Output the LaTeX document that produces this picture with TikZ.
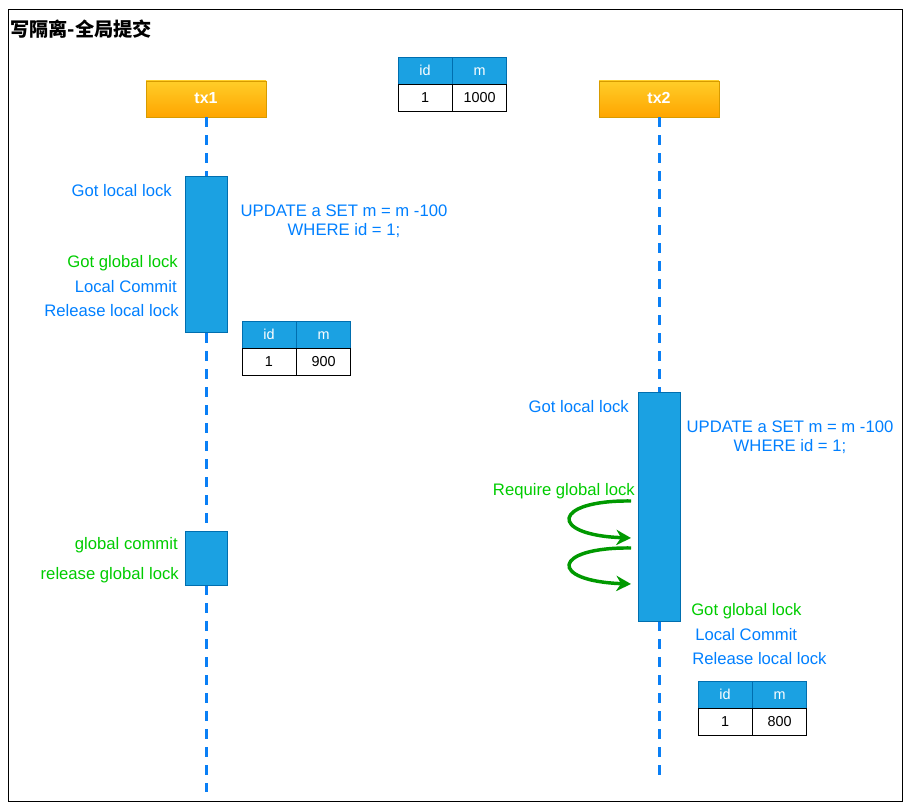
\documentclass[tikz,border=0pt]{standalone}
\usepackage{fontspec}
\setmainfont{Liberation Sans}
\newfontfamily\titlefont{Noto Sans CJK SC}
\usepackage{xcolor}
\usetikzlibrary{arrows, arrows.meta}
\usetikzlibrary{positioning}
\definecolor{actfill}{HTML}{1BA1E2}
\definecolor{actline}{HTML}{006EAF}
\definecolor{lifeblue}{HTML}{0A7FF5}
\definecolor{txtblue}{HTML}{007FFF}
\definecolor{txtgreen}{HTML}{00CC00}
\definecolor{arrgreen}{HTML}{009900}
\definecolor{txtop}{HTML}{FFCD28}
\definecolor{txbot}{HTML}{FFA500}
\definecolor{txline}{HTML}{D79B00}
\tikzset{
  txbox/.style={draw=txline, top color=txtop, bottom color=txbot, minimum width=90pt, minimum height=27pt, inner sep=0pt, text height=1.6ex, text depth=0.2ex, text=white, font=\fontsize{12}{14}\selectfont\bfseries},
  lifeline/.style={lifeblue, line width=2.25pt, dash pattern=on 7.5pt off 6pt},
  actbox/.style={draw=actline, fill=actfill, line width=0.75pt, minimum width=31.5pt, inner sep=0pt},
  bluelbl/.style={text=txtblue, inner sep=0pt, font=\fontsize{12.5}{14.25}\selectfont},
  greenlbl/.style={bluelbl, text=txtgreen},
  headcell/.style={draw=actline, fill=actfill, text=white, minimum width=40.5pt, minimum height=20.25pt, inner sep=0pt, text height=1.6ex, text depth=0.2ex, font=\fontsize{10.8}{12}\selectfont},
  valcell/.style={headcell, draw=black, fill=white, text=black},
  retry/.style={arrgreen, line width=2.6pt, -{Stealth[length=11pt,width=11.5pt,inset=3.5pt]}}
}
\begin{document}
\begin{tikzpicture}[x=0.75pt,y=-0.75pt]
	\useasboundingbox (0,0) rectangle (910,812);
	% frame and title
	\draw[line width=0.75pt] (8,10) rectangle (902,801);
	\node[anchor=west, inner sep=0pt, font=\titlefont\bfseries\fontsize{14.4}{16}\selectfont] (title) at (10,29) {写隔离-全局提交};
	% transactions
	\node[txbox] (tx1) at (206,99) {tx1};
	\node[txbox] (tx2) at (659,99) {tx2};
	\coordinate (tx1end) at (206,792);
	\coordinate (tx2end) at (659,777);
	% draw lifelines
	\draw[lifeline] (tx1.south) -- (tx1end);
	\draw[lifeline] (tx2.south) -- (tx2end);
	% activation boxes
	\node[actbox, minimum height=117pt] (act1) at (206,255) {};
	\node[actbox, minimum height=40.5pt] (act2) at (206,558) {};
	\node[actbox, minimum height=171pt] (act3) at (659,507) {};
	% data tables
	\foreach \tx/\ty/\val/\tn in {425/70.5/1000/ta, 269/334.5/900/tb, 725/694.5/800/tc} {
		\node[headcell] (\tn-id) at (\tx,\ty) {id};
		\node[headcell, right=0pt of \tn-id] (\tn-m) {m};
		\node[valcell, below=0pt of \tn-id] (\tn-k) {1};
		\node[valcell, right=0pt of \tn-k] (\tn-v) {\val};
	}
	% tx1 labels
	\node[bluelbl, anchor=east] (lock1) at (172,191) {Got local lock};
	\node[bluelbl, align=center] (upd1) at (344,221) {UPDATE a SET m = m -100\\WHERE id = 1;};
	\node[greenlbl, anchor=east] (glock1) at (178,263) {Got global lock};
	\node[bluelbl, anchor=east] (commit1) at (177,287) {Local Commit};
	\node[bluelbl, anchor=east] (rel1) at (179,311) {Release local lock};
	\node[greenlbl, anchor=east] (gcommit) at (178,545) {global commit};
	\node[greenlbl, anchor=east] (grel) at (179,575) {release global lock};
	% tx2 labels
	\node[bluelbl, anchor=east] (lock2) at (629,407) {Got local lock};
	\node[bluelbl, align=center] (upd2) at (790,437) {UPDATE a SET m = m -100\\WHERE id = 1;};
	\node[greenlbl, anchor=east] (req) at (635,491) {Require global lock};
	\node[greenlbl, anchor=west] (glock2) at (691,611) {Got global lock};
	\node[bluelbl, anchor=west] (commit2) at (695,635) {Local Commit};
	\node[bluelbl, anchor=west] (rel2) at (692,659) {Release local lock};
	% retry arrows
	\coordinate (req1s) at (631,501);
	\coordinate (req1e) at (631,538);
	\coordinate (req2s) at (631,548);
	\coordinate (req2e) at (631,584);
	\draw[retry] (req1s) .. controls (552,500) and (548,535) .. (req1e);
	\draw[retry] (req2s) .. controls (552,547) and (548,581) .. (req2e);
\end{tikzpicture}
\end{document}
